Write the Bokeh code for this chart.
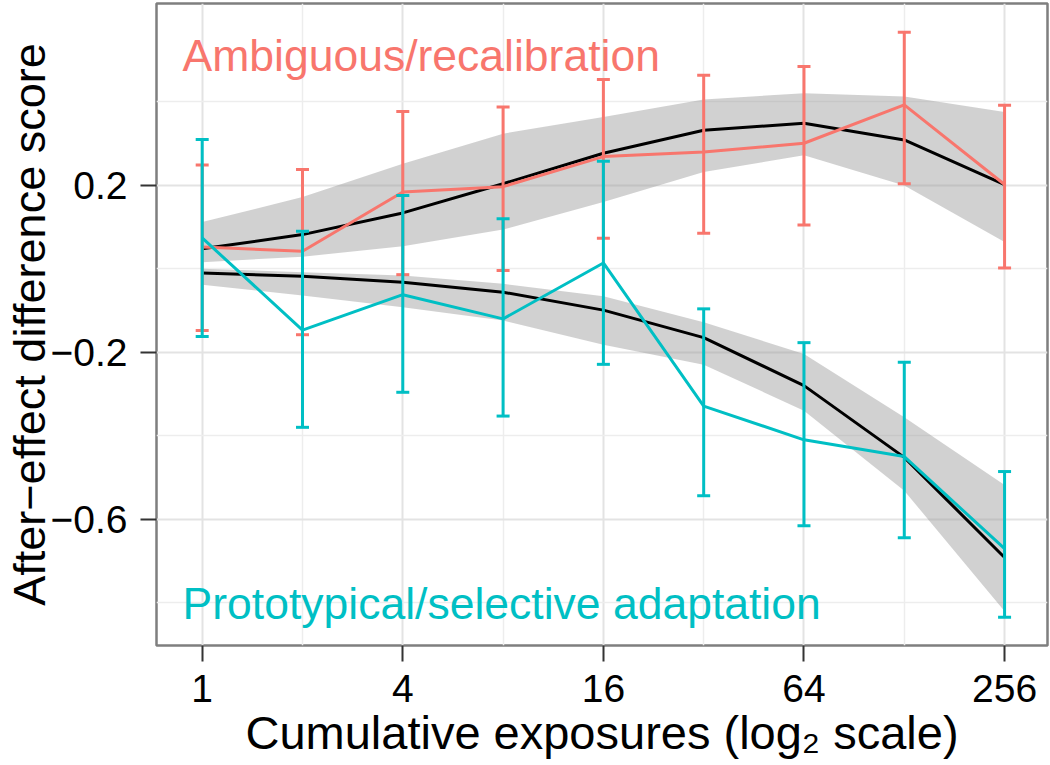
import math
from bokeh.plotting import figure
from bokeh.models import FixedTicker, Range1d, Label
from bokeh.embed import file_html
from bokeh.resources import INLINE

# ---------------- data ----------------
exposures = [1, 2, 4, 8, 16, 32, 64, 128, 256]

amb_mean  = [0.052, 0.042, 0.184, 0.197, 0.269, 0.280, 0.301, 0.393, 0.202]
amb_upper = [0.249, 0.238, 0.377, 0.388, 0.454, 0.464, 0.485, 0.567, 0.392]
amb_lower = [-0.148, -0.158, -0.014, -0.004, 0.073, 0.085, 0.105, 0.204, 0.002]
amb_fit    = [0.048, 0.082, 0.134, 0.204, 0.277, 0.332, 0.349, 0.309, 0.202]
amb_fit_hi = [0.112, 0.172, 0.252, 0.324, 0.364, 0.406, 0.421, 0.413, 0.376]
amb_fit_lo = [0.016, 0.029, 0.054, 0.094, 0.160, 0.232, 0.272, 0.200, 0.064]

pro_mean  = [0.074, -0.147, -0.062, -0.120, 0.014, -0.329, -0.410, -0.450, -0.671]
pro_upper = [0.310, 0.090, 0.176, 0.120, 0.258, -0.096, -0.177, -0.224, -0.486]
pro_lower = [-0.162, -0.380, -0.296, -0.353, -0.229, -0.544, -0.616, -0.645, -0.835]
pro_fit    = [-0.010, -0.018, -0.032, -0.056, -0.099, -0.165, -0.280, -0.452, -0.692]
pro_fit_hi = [0.000, -0.008, -0.016, -0.036, -0.066, -0.128, -0.204, -0.356, -0.518]
pro_fit_lo = [-0.038, -0.064, -0.092, -0.124, -0.182, -0.230, -0.340, -0.532, -0.821]

x_ticks = [1, 4, 16, 64, 256]
x_tick_labels = ["1", "4", "16", "64", "256"]
x_minor = [2, 8, 32, 128]
y_ticks = [-0.6, -0.2, 0.2]
y_tick_labels = ["\u22120.6", "\u22120.2", "0.2"]
y_minor = [-0.8, -0.4, 0.0, 0.4]

label_amb = "Ambiguous/recalibration"
label_pro = "Prototypical/selective adaptation"
x_title = "Cumulative exposures (log\u2082 scale)"
y_title = "After\u2212effect difference score"

# ---------------- style ----------------
RED = "#F8766D"
TEAL = "#00BFC4"
FONT = "Liberation Sans"

p = figure(
    width=1050, height=765,
    x_axis_type="log",
    x_range=Range1d(2 ** -0.4556, 2 ** 8.428),
    y_range=Range1d(-0.903, 0.636),
    output_backend="svg", toolbar_location=None,
    min_border_left=156, min_border_right=3, min_border_top=3, min_border_bottom=120,
)
p.background_fill_color = "white"
p.border_fill_color = "white"
p.outline_line_color = "#7F7F7F"
p.outline_line_width = 2.5

# grids
p.xaxis.ticker = FixedTicker(ticks=x_ticks, minor_ticks=x_minor)
p.yaxis.ticker = FixedTicker(ticks=y_ticks, minor_ticks=y_minor)
for g in (p.xgrid, p.ygrid):
    g.grid_line_color = "#E3E3E3"
    g.grid_line_width = 2
    g.minor_grid_line_color = "#EDEDED"
    g.minor_grid_line_width = 1.5

# axes
for ax in (p.xaxis, p.yaxis):
    ax.axis_line_color = None
    ax.major_tick_line_color = "#333333"
    ax.major_tick_line_width = 2
    ax.major_tick_out = 16
    ax.major_tick_in = 0
    ax.minor_tick_line_color = None
    ax.major_label_text_font = FONT
    ax.major_label_text_font_size = "39px"
    ax.major_label_text_color = "black"
    ax.axis_label_text_font = FONT
    ax.axis_label_text_font_style = "normal"
    ax.axis_label_text_color = "black"
    ax.axis_label_text_line_height = 1.0

p.xaxis.major_label_overrides = {t: s for t, s in zip(x_ticks, x_tick_labels)}
p.yaxis.major_label_overrides = {t: s for t, s in zip(y_ticks, y_tick_labels)}
p.xaxis.major_label_standoff = 13
p.yaxis.major_label_standoff = 13
p.xaxis.axis_label = x_title
p.yaxis.axis_label = y_title
p.xaxis.axis_label_text_font_size = "47px"
p.yaxis.axis_label_text_font_size = "45px"
p.xaxis.axis_label_standoff = 1
p.yaxis.axis_label_standoff = -7

# ribbons
p.varea(x=exposures, y1=amb_fit_lo, y2=amb_fit_hi, fill_color="#999999", fill_alpha=0.45)
p.varea(x=exposures, y1=pro_fit_lo, y2=pro_fit_hi, fill_color="#999999", fill_alpha=0.45)

# fitted lines
p.line(exposures, amb_fit, line_color="black", line_width=3)
p.line(exposures, pro_fit, line_color="black", line_width=3)

def series(mean, lo, hi, color):
    p.segment(x0=exposures, y0=lo, x1=exposures, y1=hi, line_color=color, line_width=3)
    p.scatter(x=exposures + exposures, y=lo + hi, marker="dash", size=13,
              line_color=color, line_width=3)
    p.line(exposures, mean, line_color=color, line_width=3)

series(amb_mean, amb_lower, amb_upper, RED)
series(pro_mean, pro_lower, pro_upper, TEAL)

# in-panel labels
p.add_layout(Label(x=2 ** -0.196, y=0.512, text=label_amb, text_color=RED,
                   text_font=FONT, text_font_size="44.5px", text_baseline="alphabetic"))
p.add_layout(Label(x=2 ** -0.196, y=-0.803, text=label_pro, text_color=TEAL,
                   text_font=FONT, text_font_size="44.5px", text_baseline="alphabetic"))

open("out.html", "w").write(file_html(p, INLINE))
